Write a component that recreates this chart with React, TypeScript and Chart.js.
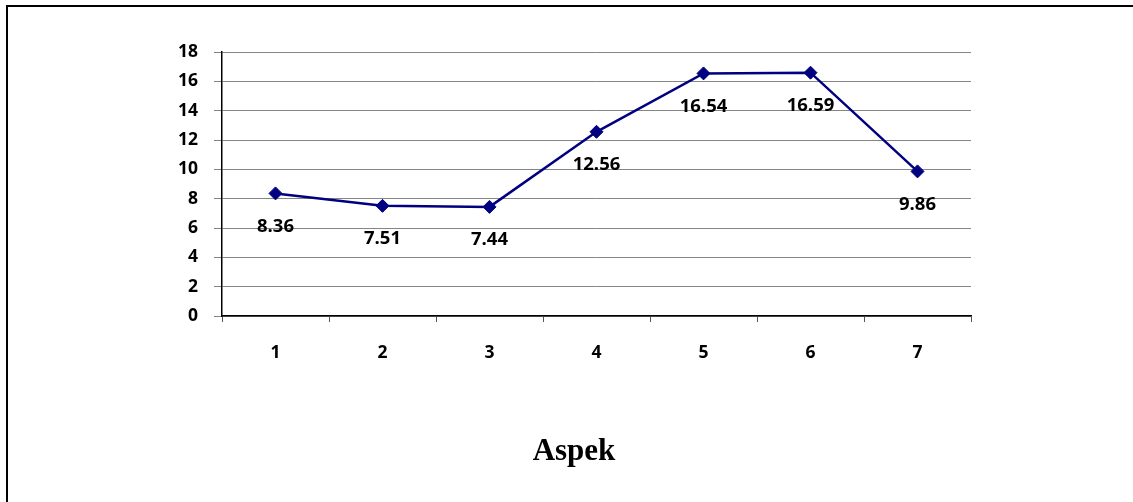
import React, { useEffect, useRef } from "react";
import { Chart, registerables } from "chart.js";

Chart.register(...registerables);

const categories = ["1", "2", "3", "4", "5", "6", "7"];
const scores = [8.36, 7.51, 7.44, 12.56, 16.54, 16.59, 9.86];
const yMin = 0;
const yMax = 18;
const yStep = 2;
const axisTitle = "Aspek";

const LABEL_FONT = "'Open Sans', 'Liberation Sans', sans-serif";

// Writes each point's value just beneath its marker, and the axis caption.
const annotations = {
  id: "annotations",
  afterDatasetsDraw(chart: any) {
    const { ctx } = chart;
    const meta = chart.getDatasetMeta(0);
    ctx.save();
    ctx.fillStyle = "#000";
    ctx.font = `bold 18.5px ${LABEL_FONT}`;
    ctx.textAlign = "center";
    ctx.textBaseline = "middle";
    meta.data.forEach((pt: any, i: number) => {
      ctx.fillText(scores[i].toFixed(2), pt.x, pt.y + 33);
    });
    ctx.font = "bold 31px 'Liberation Serif', 'Times New Roman', serif";
    ctx.textBaseline = "alphabetic";
    ctx.fillText(axisTitle, 574, 460);
    ctx.restore();
  },
};

export default function App() {
  const canvasRef = useRef<HTMLCanvasElement | null>(null);

  useEffect(() => {
    if (!canvasRef.current) return;
    const chart = new Chart(canvasRef.current, {
      type: "line",
      data: {
        labels: categories,
        datasets: [
          {
            data: scores,
            borderColor: "#000080",
            backgroundColor: "#000080",
            borderWidth: 2.5,
            pointStyle: "rectRot",
            pointRadius: 6.5,
            pointBorderWidth: 1,
            pointBackgroundColor: "#000080",
            pointBorderColor: "#000080",
            tension: 0,
          },
        ],
      },
      options: {
        responsive: false,
        animation: false,
        layout: { padding: { left: 0, top: 52, right: 162, bottom: 0 } },
        plugins: {
          legend: { display: false },
          tooltip: { enabled: false },
          title: { display: false },
        },
        scales: {
          x: {
            offset: true,
            grid: {
              offset: true,
              drawOnChartArea: false,
              drawTicks: true,
              tickLength: 6,
              color: "#555",
            },
            border: { display: true, color: "#000", width: 1.5 },
            ticks: {
              color: "#000",
              padding: 21,
              font: { family: LABEL_FONT, size: 17.5, weight: "bold" },
            },
            afterFit(scale: any) {
              scale.height = 502 - 316;
              scale.paddingLeft = 0;
              scale.paddingRight = 0;
            },
          },
          y: {
            min: yMin,
            max: yMax,
            grid: {
              color: "#858585",
              lineWidth: 1,
              tickLength: 8,
            },
            border: { display: true, color: "#000", width: 1.5 },
            ticks: {
              stepSize: yStep,
              color: "#000",
              padding: 16,
              font: { family: LABEL_FONT, size: 17.5, weight: "bold" },
            },
            afterFit(scale: any) {
              scale.width = 222;
              scale.paddingTop = 0;
              scale.paddingBottom = 0;
            },
          },
        },
      },
      plugins: [annotations],
    });
    return () => chart.destroy();
  }, []);

  return (
    <div
      style={{
        position: "fixed",
        left: 0,
        top: 0,
        width: 1133,
        height: 502,
        overflow: "hidden",
        background: "#fff",
      }}
    >
      <div
        style={{
          position: "absolute",
          left: 6,
          top: 5,
          width: 1200,
          height: 600,
          borderLeft: "2px solid #000",
          borderTop: "2px solid #000",
        }}
      />
      <canvas
        ref={canvasRef}
        width={1133}
        height={502}
        style={{ position: "absolute", left: 0, top: 0 }}
      />
    </div>
  );
}
